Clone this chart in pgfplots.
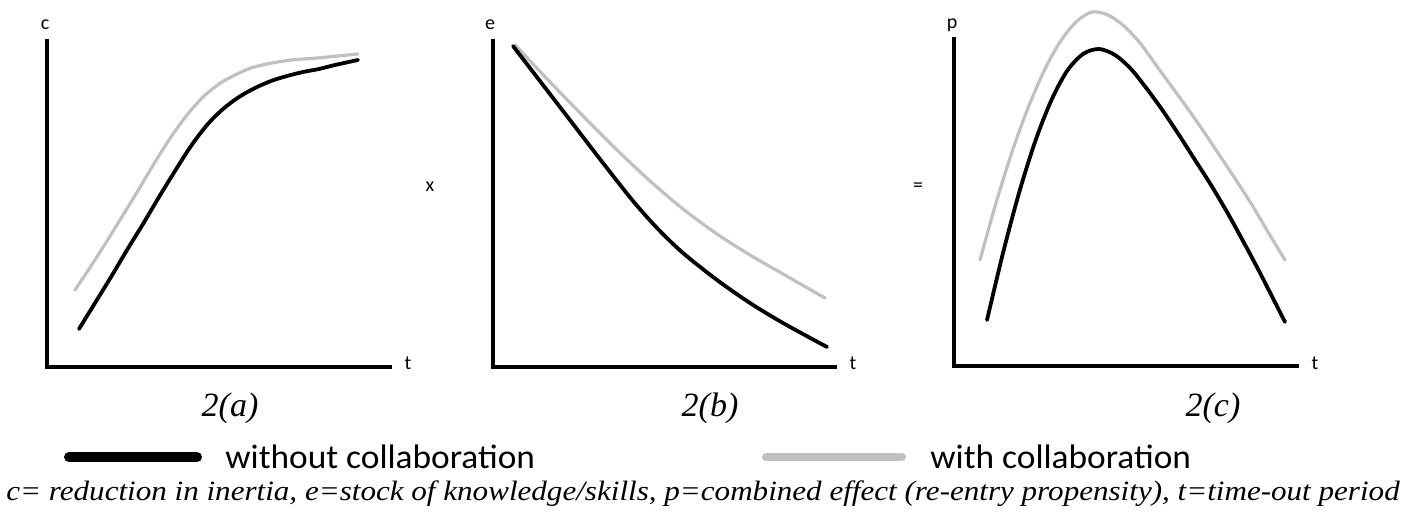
\documentclass[border=0pt]{standalone}
\usepackage{pgfplots}
\pgfplotsset{compat=1.18}
\usepackage{fontspec}
\setmainfont{Liberation Serif}
\newfontfamily\carl{Carlito}
\newfontfamily\carlw[FakeStretch=1.04]{Carlito}
\newfontfamily\capfont[FakeStretch=1.11]{Liberation Serif}
\definecolor{lgray}{RGB}{192,192,192}
\pgfplotsset{
  panel/.style={x=0.5pt, y=0.5pt, xmin=0, ymin=0, clip=false,
    axis x line*=bottom, axis y line*=left,
    axis line style={line width=2pt, line cap=rect},
    xtick=\empty, ytick=\empty, anchor=origin},
  blk/.style={black, line width=1.9pt, smooth, line cap=round, no marks},
  gry/.style={lgray, line width=1.6pt, smooth, line cap=round, no marks},
}
\begin{document}
\begin{tikzpicture}[x=0.5pt,y=0.5pt]
\path[use as bounding box] (0,0) rectangle (1402,-513);
% panel a
\begin{axis}[panel, at={(47,-367)}, xmax=343, ymax=326]
\addplot[gry] coordinates {(28,77) (44,101) (60,126) (76,152) (92,178) (108,205) (124,230) (140,252) (156,270) (172,283) (188,292) (204,299) (220,303) (244,307) (270,309) (311,313)};
\addplot[blk] coordinates {(32,38) (48,64) (64,90) (80,117) (96,143) (112,170) (128,196) (144,221) (160,242) (176,258) (192,270) (208,279) (224,286) (240,291) (256,295) (272,298) (288,302) (311,307)};
\end{axis}
% panel b
\begin{axis}[panel, at={(493,-367)}, xmax=342, ymax=326]
\addplot[gry] coordinates {(22,322) (57,285) (90,251) (124,217) (157,186) (190,158) (224,133) (257,112) (290,93) (332,69)};
\addplot[blk] coordinates {(20,321) (50,282) (80,243) (110,204) (140,166) (165,138) (190,114) (224,87) (257,64) (290,44) (334,20)};
\end{axis}
% panel c
\begin{axis}[panel, at={(954,-366)}, xmax=343, ymax=327]
\addplot[gry] coordinates {(26,106) (42,163) (58,214) (74,258) (90,295) (106,324) (122,344) (138,354) (154,351) (170,340) (186,323) (202,301) (218,279) (234,257) (250,234) (266,210) (282,186) (298,161) (314,134) (331,106)};
\addplot[blk] coordinates {(33,46) (49,113) (65,173) (81,224) (97,265) (113,295) (129,312) (145,317) (161,311) (177,297) (193,277) (209,255) (225,231) (241,206) (257,181) (273,154) (289,125) (305,95) (331,44)};
\end{axis}
% axis letters
\node[font=\carl\fontsize{10}{12}\selectfont] at (45,-25) {c};
\node[font=\carl\fontsize{10}{12}\selectfont] at (490,-25) {e};
\node[font=\carl\fontsize{10}{12}\selectfont] at (952,-25) {p};
\node[font=\carl\fontsize{10}{12}\selectfont] at (408,-363) {t};
\node[font=\carl\fontsize{10}{12}\selectfont] at (853,-363) {t};
\node[font=\carl\fontsize{10}{12}\selectfont] at (1315,-363) {t};
\node[font=\carl\fontsize{10}{12}\selectfont] at (430,-187) {x};
\node[font=\carl\fontsize{10}{12}\selectfont] at (918,-187) {=};
% panel captions
\node[font=\itshape\fontsize{17}{20}\selectfont] at (230,-408) {2(a)};
\node[font=\itshape\fontsize{17}{20}\selectfont] at (710,-408) {2(b)};
\node[font=\itshape\fontsize{17}{20}\selectfont] at (1213,-408) {2(c)};
% legend
\draw[black, line width=5pt, line cap=round] (69,-457) -- (197,-457);
\draw[lgray, line width=4pt, line cap=round] (766,-457) -- (902,-457);
\node[font=\carlw\fontsize{17}{20}\selectfont, anchor=west, inner sep=0pt] at (225,-457) {without collaboration};
\node[font=\carlw\fontsize{17}{20}\selectfont, anchor=west, inner sep=0pt] at (930,-457) {with collaboration};
% bottom caption
\node[font=\capfont\itshape\fontsize{14}{17}\selectfont, inner sep=0pt] at (703,-494) {c= reduction in inertia, e=stock of knowledge/skills, p=combined effect (re-entry propensity), t=time-out period};
\end{tikzpicture}
\end{document}
